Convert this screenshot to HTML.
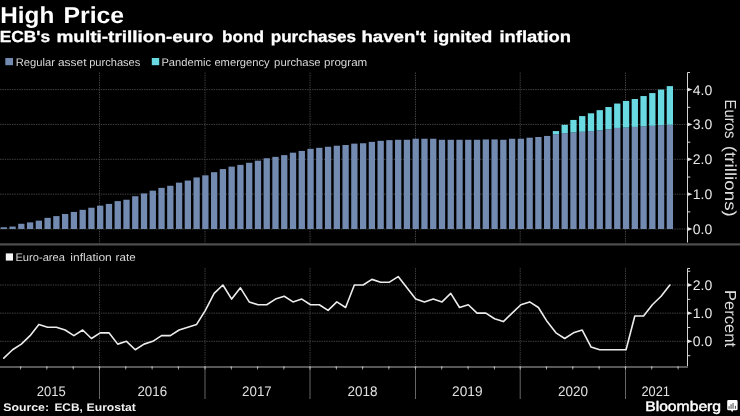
<!DOCTYPE html>
<html><head><meta charset="utf-8"><title>High Price</title>
<style>
html,body{margin:0;padding:0;background:#000;}
body{width:740px;height:416px;overflow:hidden;}
svg{display:block;will-change:transform;}
text{font-family:"Liberation Sans",sans-serif;text-rendering:geometricPrecision;}
.g{stroke:#424242;stroke-width:1;stroke-dasharray:1.4 1;}
.ax{stroke:#d4d4d4;stroke-width:1;fill:none;}
.tl{font-size:14px;fill:#e8e8e8;}
.yl{font-size:16px;fill:#dedede;}
.xl{font-size:14px;fill:#e0e0e0;}
.lg{font-size:11px;fill:#d8d8d8;}
.t1{font-size:23px;font-weight:bold;fill:#fff;}
.t2{font-size:16px;font-weight:bold;fill:#fff;stroke:#fff;stroke-width:0.3px;}
.src{font-size:11px;font-weight:bold;fill:#f0f0f0;}
.bb{font-size:14px;fill:#fff;stroke:#fff;stroke-width:0.45px;}
</style></head>
<body>
<svg width="740" height="416" viewBox="0 0 740 416">
<rect width="740" height="416" fill="#000"/>
<line x1="0" y1="229" x2="687.5" y2="229" class="g"/>
<line x1="0" y1="194.15" x2="687.5" y2="194.15" class="g"/>
<line x1="0" y1="159.3" x2="687.5" y2="159.3" class="g"/>
<line x1="0" y1="124.45" x2="687.5" y2="124.45" class="g"/>
<line x1="0" y1="89.6" x2="687.5" y2="89.6" class="g"/>
<line x1="99.5" y1="72.5" x2="99.5" y2="244" class="g"/>
<line x1="205" y1="72.5" x2="205" y2="244" class="g"/>
<line x1="310" y1="72.5" x2="310" y2="244" class="g"/>
<line x1="415.5" y1="72.5" x2="415.5" y2="244" class="g"/>
<line x1="520.2" y1="72.5" x2="520.2" y2="244" class="g"/>
<line x1="625.5" y1="72.5" x2="625.5" y2="244" class="g"/>
<rect x="0.65" y="227.26" width="6.3" height="1.74" fill="#738bb1"/>
<rect x="9.41" y="226.56" width="6.3" height="2.44" fill="#738bb1"/>
<rect x="18.18" y="223.77" width="6.3" height="5.23" fill="#738bb1"/>
<rect x="26.94" y="222.38" width="6.3" height="6.62" fill="#738bb1"/>
<rect x="35.71" y="220.64" width="6.3" height="8.36" fill="#738bb1"/>
<rect x="44.47" y="217.85" width="6.3" height="11.15" fill="#738bb1"/>
<rect x="53.23" y="216.11" width="6.3" height="12.89" fill="#738bb1"/>
<rect x="62" y="214.01" width="6.3" height="14.99" fill="#738bb1"/>
<rect x="70.76" y="211.92" width="6.3" height="17.08" fill="#738bb1"/>
<rect x="79.53" y="209.83" width="6.3" height="19.17" fill="#738bb1"/>
<rect x="88.29" y="207.74" width="6.3" height="21.26" fill="#738bb1"/>
<rect x="97.05" y="205.65" width="6.3" height="23.35" fill="#738bb1"/>
<rect x="105.82" y="203.91" width="6.3" height="25.09" fill="#738bb1"/>
<rect x="114.58" y="201.12" width="6.3" height="27.88" fill="#738bb1"/>
<rect x="123.35" y="199.73" width="6.3" height="29.27" fill="#738bb1"/>
<rect x="132.11" y="196.24" width="6.3" height="32.76" fill="#738bb1"/>
<rect x="140.87" y="193.45" width="6.3" height="35.55" fill="#738bb1"/>
<rect x="149.64" y="190.66" width="6.3" height="38.34" fill="#738bb1"/>
<rect x="158.4" y="187.88" width="6.3" height="41.12" fill="#738bb1"/>
<rect x="167.17" y="185.79" width="6.3" height="43.21" fill="#738bb1"/>
<rect x="175.93" y="182.65" width="6.3" height="46.35" fill="#738bb1"/>
<rect x="184.69" y="180.56" width="6.3" height="48.44" fill="#738bb1"/>
<rect x="193.46" y="177.42" width="6.3" height="51.58" fill="#738bb1"/>
<rect x="202.22" y="175.33" width="6.3" height="53.67" fill="#738bb1"/>
<rect x="210.99" y="172.19" width="6.3" height="56.81" fill="#738bb1"/>
<rect x="219.75" y="169.06" width="6.3" height="59.94" fill="#738bb1"/>
<rect x="228.51" y="166.62" width="6.3" height="62.38" fill="#738bb1"/>
<rect x="237.28" y="164.88" width="6.3" height="64.12" fill="#738bb1"/>
<rect x="246.04" y="162.78" width="6.3" height="66.22" fill="#738bb1"/>
<rect x="254.81" y="160.69" width="6.3" height="68.31" fill="#738bb1"/>
<rect x="263.57" y="158.25" width="6.3" height="70.75" fill="#738bb1"/>
<rect x="272.33" y="156.86" width="6.3" height="72.14" fill="#738bb1"/>
<rect x="281.1" y="155.12" width="6.3" height="73.88" fill="#738bb1"/>
<rect x="289.86" y="152.68" width="6.3" height="76.32" fill="#738bb1"/>
<rect x="298.63" y="150.94" width="6.3" height="78.06" fill="#738bb1"/>
<rect x="307.39" y="148.84" width="6.3" height="80.16" fill="#738bb1"/>
<rect x="316.15" y="147.8" width="6.3" height="81.2" fill="#738bb1"/>
<rect x="324.92" y="146.75" width="6.3" height="82.25" fill="#738bb1"/>
<rect x="333.68" y="145.71" width="6.3" height="83.29" fill="#738bb1"/>
<rect x="342.45" y="145.01" width="6.3" height="83.99" fill="#738bb1"/>
<rect x="351.21" y="143.62" width="6.3" height="85.38" fill="#738bb1"/>
<rect x="359.97" y="143.27" width="6.3" height="85.73" fill="#738bb1"/>
<rect x="368.74" y="141.88" width="6.3" height="87.12" fill="#738bb1"/>
<rect x="377.5" y="140.83" width="6.3" height="88.17" fill="#738bb1"/>
<rect x="386.27" y="140.13" width="6.3" height="88.87" fill="#738bb1"/>
<rect x="395.03" y="139.78" width="6.3" height="89.22" fill="#738bb1"/>
<rect x="403.79" y="139.78" width="6.3" height="89.22" fill="#738bb1"/>
<rect x="412.56" y="138.74" width="6.3" height="90.26" fill="#738bb1"/>
<rect x="421.32" y="138.74" width="6.3" height="90.26" fill="#738bb1"/>
<rect x="430.09" y="138.74" width="6.3" height="90.26" fill="#738bb1"/>
<rect x="438.85" y="139.78" width="6.3" height="89.22" fill="#738bb1"/>
<rect x="447.61" y="139.78" width="6.3" height="89.22" fill="#738bb1"/>
<rect x="456.38" y="139.78" width="6.3" height="89.22" fill="#738bb1"/>
<rect x="465.14" y="139.78" width="6.3" height="89.22" fill="#738bb1"/>
<rect x="473.91" y="139.78" width="6.3" height="89.22" fill="#738bb1"/>
<rect x="482.67" y="139.44" width="6.3" height="89.56" fill="#738bb1"/>
<rect x="491.43" y="139.44" width="6.3" height="89.56" fill="#738bb1"/>
<rect x="500.2" y="139.78" width="6.3" height="89.22" fill="#738bb1"/>
<rect x="508.96" y="138.74" width="6.3" height="90.26" fill="#738bb1"/>
<rect x="517.73" y="138.74" width="6.3" height="90.26" fill="#738bb1"/>
<rect x="526.49" y="137.69" width="6.3" height="91.31" fill="#738bb1"/>
<rect x="535.25" y="137" width="6.3" height="92" fill="#738bb1"/>
<rect x="544.02" y="135.95" width="6.3" height="93.05" fill="#738bb1"/>
<rect x="552.78" y="134.21" width="6.3" height="94.79" fill="#738bb1"/>
<rect x="552.78" y="131.07" width="6.3" height="3.14" fill="#69d9e2"/>
<rect x="561.55" y="133.16" width="6.3" height="95.84" fill="#738bb1"/>
<rect x="561.55" y="124.8" width="6.3" height="8.36" fill="#69d9e2"/>
<rect x="570.31" y="132.47" width="6.3" height="96.53" fill="#738bb1"/>
<rect x="570.31" y="119.92" width="6.3" height="12.55" fill="#69d9e2"/>
<rect x="579.07" y="131.77" width="6.3" height="97.23" fill="#738bb1"/>
<rect x="579.07" y="116.09" width="6.3" height="15.68" fill="#69d9e2"/>
<rect x="587.84" y="131.07" width="6.3" height="97.93" fill="#738bb1"/>
<rect x="587.84" y="113.3" width="6.3" height="17.77" fill="#69d9e2"/>
<rect x="596.6" y="130.37" width="6.3" height="98.63" fill="#738bb1"/>
<rect x="596.6" y="110.16" width="6.3" height="20.21" fill="#69d9e2"/>
<rect x="605.37" y="129.33" width="6.3" height="99.67" fill="#738bb1"/>
<rect x="605.37" y="107.02" width="6.3" height="22.3" fill="#69d9e2"/>
<rect x="614.13" y="127.94" width="6.3" height="101.06" fill="#738bb1"/>
<rect x="614.13" y="103.54" width="6.3" height="24.4" fill="#69d9e2"/>
<rect x="622.89" y="127.59" width="6.3" height="101.41" fill="#738bb1"/>
<rect x="622.89" y="100.93" width="6.3" height="26.66" fill="#69d9e2"/>
<rect x="631.66" y="126.89" width="6.3" height="102.11" fill="#738bb1"/>
<rect x="631.66" y="99.01" width="6.3" height="27.88" fill="#69d9e2"/>
<rect x="640.42" y="126.19" width="6.3" height="102.81" fill="#738bb1"/>
<rect x="640.42" y="96.05" width="6.3" height="30.15" fill="#69d9e2"/>
<rect x="649.19" y="125.84" width="6.3" height="103.16" fill="#738bb1"/>
<rect x="649.19" y="93.09" width="6.3" height="32.76" fill="#69d9e2"/>
<rect x="657.95" y="125.15" width="6.3" height="103.85" fill="#738bb1"/>
<rect x="657.95" y="89.6" width="6.3" height="35.55" fill="#69d9e2"/>
<rect x="666.71" y="124.8" width="6.3" height="104.2" fill="#738bb1"/>
<rect x="666.71" y="86.12" width="6.3" height="38.68" fill="#69d9e2"/>
<path d="M690.0 72.5H687.5V242.5" class="ax"/>
<path d="M687.5 227.1L692.5 229L687.5 230.9Z" fill="#e4e4e4"/>
<text x="692.8" y="234" class="tl">0.0</text>
<rect x="687.5" y="211.38" width="2.8" height="1" fill="#d8d8d8"/>
<path d="M687.5 192.25L692.5 194.15L687.5 196.05Z" fill="#e4e4e4"/>
<text x="692.8" y="199.15" class="tl">1.0</text>
<rect x="687.5" y="176.53" width="2.8" height="1" fill="#d8d8d8"/>
<path d="M687.5 157.4L692.5 159.3L687.5 161.2Z" fill="#e4e4e4"/>
<text x="692.8" y="164.3" class="tl">2.0</text>
<rect x="687.5" y="141.68" width="2.8" height="1" fill="#d8d8d8"/>
<path d="M687.5 122.55L692.5 124.45L687.5 126.35Z" fill="#e4e4e4"/>
<text x="692.8" y="129.45" class="tl">3.0</text>
<rect x="687.5" y="106.82" width="2.8" height="1" fill="#d8d8d8"/>
<path d="M687.5 87.7L692.5 89.6L687.5 91.5Z" fill="#e4e4e4"/>
<text x="692.8" y="94.6" class="tl">4.0</text>
<text transform="translate(725,99.5) rotate(90)" class="yl" textLength="39" lengthAdjust="spacingAndGlyphs">Euros</text>
<text transform="translate(725,145.8) rotate(90)" class="yl" textLength="71" lengthAdjust="spacingAndGlyphs">(trillions)</text>
<rect x="0" y="243.3" width="740" height="2.2" fill="#4f4f4f"/>
<line x1="0" y1="341.3" x2="687.5" y2="341.3" class="g"/>
<line x1="0" y1="313.15" x2="687.5" y2="313.15" class="g"/>
<line x1="0" y1="285" x2="687.5" y2="285" class="g"/>
<line x1="99.5" y1="268" x2="99.5" y2="366" class="g"/>
<line x1="205" y1="268" x2="205" y2="366" class="g"/>
<line x1="310" y1="268" x2="310" y2="366" class="g"/>
<line x1="415.5" y1="268" x2="415.5" y2="366" class="g"/>
<line x1="520.2" y1="268" x2="520.2" y2="366" class="g"/>
<line x1="625.5" y1="268" x2="625.5" y2="366" class="g"/>
<polyline points="3.8,358.19 12.56,349.75 21.33,344.12 30.09,335.67 38.86,324.41 47.62,327.23 56.38,327.23 65.15,330.04 73.91,335.67 82.68,330.04 91.44,338.49 100.2,332.86 108.97,332.86 117.73,344.12 126.5,341.3 135.26,349.75 144.02,344.12 152.79,341.3 161.55,335.67 170.32,335.67 179.08,330.04 187.84,327.23 196.61,324.41 205.37,310.34 214.14,293.44 222.9,285 231.66,299.08 240.43,287.81 249.19,301.89 257.96,304.71 266.72,304.71 275.48,299.08 284.25,296.26 293.01,301.89 301.78,299.08 310.54,304.71 319.3,304.71 328.07,310.34 336.83,301.89 345.6,307.52 354.36,285 363.12,285 371.89,279.37 380.65,282.19 389.42,282.19 398.18,276.56 406.94,287.81 415.71,299.08 424.47,301.89 433.24,299.08 442,301.89 450.76,293.44 459.53,307.52 468.29,304.71 477.06,313.15 485.82,313.15 494.58,318.78 503.35,321.6 512.11,313.15 520.88,304.71 529.64,301.89 538.4,307.52 547.17,321.6 555.93,332.86 564.7,338.49 573.46,332.86 582.22,330.04 590.99,346.93 599.75,349.75 608.52,349.75 617.28,349.75 626.04,349.75 634.81,315.97 643.57,315.97 652.34,304.71 661.1,296.26 669.86,285" fill="none" stroke="#ececec" stroke-width="1.6" stroke-linejoin="round" stroke-linecap="round"/>
<path d="M690.0 268.5H687.5V367" class="ax"/>
<rect x="687.5" y="355.18" width="2.8" height="1" fill="#d8d8d8"/>
<path d="M687.5 339.4L692.5 341.3L687.5 343.2Z" fill="#e4e4e4"/>
<text x="692.8" y="346.3" class="tl">0.0</text>
<rect x="687.5" y="327.03" width="2.8" height="1" fill="#d8d8d8"/>
<path d="M687.5 311.25L692.5 313.15L687.5 315.05Z" fill="#e4e4e4"/>
<text x="692.8" y="318.15" class="tl">1.0</text>
<rect x="687.5" y="298.88" width="2.8" height="1" fill="#d8d8d8"/>
<path d="M687.5 283.1L692.5 285L687.5 286.9Z" fill="#e4e4e4"/>
<text x="692.8" y="290" class="tl">2.0</text>
<rect x="687.5" y="270.73" width="2.8" height="1" fill="#d8d8d8"/>
<text transform="translate(725,290) rotate(90)" class="yl" textLength="57" lengthAdjust="spacingAndGlyphs">Percent</text>
<rect x="0" y="366" width="688.0" height="2" fill="#575757"/>
<path d="M19.7 366.5L21.5 366.5L20.6 370.2Z" fill="#bdbdbd"/>
<path d="M46 366.5L47.8 366.5L46.9 370.2Z" fill="#bdbdbd"/>
<path d="M72.3 366.5L74.1 366.5L73.2 370.2Z" fill="#bdbdbd"/>
<rect x="99" y="366" width="1" height="33" fill="#666"/>
<path d="M98.6 366.5L100.4 366.5L99.5 370.2Z" fill="#bdbdbd"/>
<path d="M124.9 366.5L126.7 366.5L125.8 370.2Z" fill="#bdbdbd"/>
<path d="M151.2 366.5L153 366.5L152.1 370.2Z" fill="#bdbdbd"/>
<path d="M177.5 366.5L179.3 366.5L178.4 370.2Z" fill="#bdbdbd"/>
<rect x="204.5" y="366" width="1" height="33" fill="#666"/>
<path d="M204.1 366.5L205.9 366.5L205 370.2Z" fill="#bdbdbd"/>
<path d="M230.4 366.5L232.2 366.5L231.3 370.2Z" fill="#bdbdbd"/>
<path d="M256.7 366.5L258.5 366.5L257.6 370.2Z" fill="#bdbdbd"/>
<path d="M283 366.5L284.8 366.5L283.9 370.2Z" fill="#bdbdbd"/>
<rect x="309.5" y="366" width="1" height="33" fill="#666"/>
<path d="M309.1 366.5L310.9 366.5L310 370.2Z" fill="#bdbdbd"/>
<path d="M335.4 366.5L337.2 366.5L336.3 370.2Z" fill="#bdbdbd"/>
<path d="M361.7 366.5L363.5 366.5L362.6 370.2Z" fill="#bdbdbd"/>
<path d="M388 366.5L389.8 366.5L388.9 370.2Z" fill="#bdbdbd"/>
<rect x="415" y="366" width="1" height="33" fill="#666"/>
<path d="M414.6 366.5L416.4 366.5L415.5 370.2Z" fill="#bdbdbd"/>
<path d="M440.9 366.5L442.7 366.5L441.8 370.2Z" fill="#bdbdbd"/>
<path d="M467.2 366.5L469 366.5L468.1 370.2Z" fill="#bdbdbd"/>
<path d="M493.5 366.5L495.3 366.5L494.4 370.2Z" fill="#bdbdbd"/>
<rect x="519.7" y="366" width="1" height="33" fill="#666"/>
<path d="M519.3 366.5L521.1 366.5L520.2 370.2Z" fill="#bdbdbd"/>
<path d="M545.6 366.5L547.4 366.5L546.5 370.2Z" fill="#bdbdbd"/>
<path d="M571.9 366.5L573.7 366.5L572.8 370.2Z" fill="#bdbdbd"/>
<path d="M598.2 366.5L600 366.5L599.1 370.2Z" fill="#bdbdbd"/>
<rect x="625" y="366" width="1" height="33" fill="#666"/>
<path d="M624.6 366.5L626.4 366.5L625.5 370.2Z" fill="#bdbdbd"/>
<path d="M650.9 366.5L652.7 366.5L651.8 370.2Z" fill="#bdbdbd"/>
<path d="M677.2 366.5L679 366.5L678.1 370.2Z" fill="#bdbdbd"/>
<rect x="5.3" y="58" width="7.7" height="7.2" fill="#738bb1"/>
<rect x="151.8" y="58" width="7.4" height="7.2" fill="#69d9e2"/>
<rect x="5.8" y="253.4" width="7.2" height="7.2" fill="#f5f5f5"/>
<path d="M728.5 400h7.8a1.3 1.3 0 0 1 1.3 1.3v7.6a1.3 1.3 0 0 1-1.3 1.3h-3.1l-1.1 2-1.1-2h-2.5a1.3 1.3 0 0 1-1.3-1.3v-7.6a1.3 1.3 0 0 1 1.3-1.3z" fill="#fff"/>
<rect x="728.5" y="406.2" width="1.1" height="2.6" fill="#5a5a5a"/>
<rect x="730.5" y="404.2" width="1.1" height="4.6" fill="#5a5a5a"/>
<rect x="732.5" y="403" width="1.1" height="5.8" fill="#5a5a5a"/>
<rect x="734.9" y="405.8" width="1.1" height="3" fill="#5a5a5a"/>
<text x="36.70" y="395.9" class="xl" textLength="29.00" lengthAdjust="spacingAndGlyphs">2015</text>
<text x="137.40" y="395.9" class="xl" textLength="29.70" lengthAdjust="spacingAndGlyphs">2016</text>
<text x="242.10" y="395.9" class="xl" textLength="29.60" lengthAdjust="spacingAndGlyphs">2017</text>
<text x="347.60" y="395.9" class="xl" textLength="29.99" lengthAdjust="spacingAndGlyphs">2018</text>
<text x="452.10" y="395.9" class="xl" textLength="30.39" lengthAdjust="spacingAndGlyphs">2019</text>
<text x="558.00" y="395.9" class="xl" textLength="29.99" lengthAdjust="spacingAndGlyphs">2020</text>
<text x="641.50" y="395.9" class="xl" textLength="28.50" lengthAdjust="spacingAndGlyphs">2021</text>
<text x="0.34" y="23.1" class="t1" textLength="53.96" lengthAdjust="spacingAndGlyphs">High</text>
<text x="63.52" y="23.1" class="t1" textLength="60.63" lengthAdjust="spacingAndGlyphs">Price</text>
<text x="-0.18" y="42.4" class="t2" textLength="50.27" lengthAdjust="spacingAndGlyphs">ECB&#39;s</text>
<text x="56.52" y="42.4" class="t2" textLength="156.82" lengthAdjust="spacingAndGlyphs">multi-trillion-euro</text>
<text x="221.92" y="42.4" class="t2" textLength="42.11" lengthAdjust="spacingAndGlyphs">bond</text>
<text x="270.73" y="42.4" class="t2" textLength="85.36" lengthAdjust="spacingAndGlyphs">purchases</text>
<text x="361.44" y="42.4" class="t2" textLength="64.48" lengthAdjust="spacingAndGlyphs">haven&#39;t</text>
<text x="433.27" y="42.4" class="t2" textLength="59.00" lengthAdjust="spacingAndGlyphs">ignited</text>
<text x="499.45" y="42.4" class="t2" textLength="71.54" lengthAdjust="spacingAndGlyphs">inflation</text>
<text x="15.70" y="65.6" class="lg" textLength="39.36" lengthAdjust="spacingAndGlyphs">Regular</text>
<text x="58.00" y="65.6" class="lg" textLength="28.46" lengthAdjust="spacingAndGlyphs">asset</text>
<text x="89.20" y="65.6" class="lg" textLength="51.10" lengthAdjust="spacingAndGlyphs">purchases</text>
<text x="161.40" y="65.6" class="lg" textLength="49.59" lengthAdjust="spacingAndGlyphs">Pandemic</text>
<text x="214.40" y="65.6" class="lg" textLength="55.29" lengthAdjust="spacingAndGlyphs">emergency</text>
<text x="274.10" y="65.6" class="lg" textLength="46.52" lengthAdjust="spacingAndGlyphs">purchase</text>
<text x="324.10" y="65.6" class="lg" textLength="43.17" lengthAdjust="spacingAndGlyphs">program</text>
<text x="15.40" y="261" class="lg" textLength="49.61" lengthAdjust="spacingAndGlyphs">Euro-area</text>
<text x="70.30" y="261" class="lg" textLength="41.53" lengthAdjust="spacingAndGlyphs">inflation</text>
<text x="115.60" y="261" class="lg" textLength="20.02" lengthAdjust="spacingAndGlyphs">rate</text>
<text x="3.30" y="411.2" class="src" textLength="45.74" lengthAdjust="spacingAndGlyphs">Source:</text>
<text x="54.40" y="411.2" class="src" textLength="28.36" lengthAdjust="spacingAndGlyphs">ECB,</text>
<text x="86.60" y="411.2" class="src" textLength="49.33" lengthAdjust="spacingAndGlyphs">Eurostat</text>
<text x="645.18" y="410.5" class="bb" textLength="75.90" lengthAdjust="spacingAndGlyphs">Bloomberg</text>
</svg>
</body></html>
